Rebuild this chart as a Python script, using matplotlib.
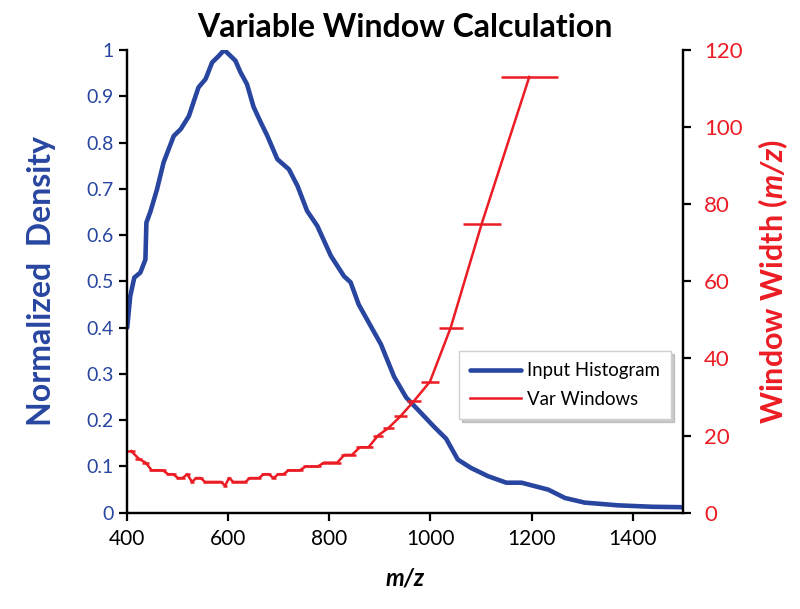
import numpy as np
import matplotlib
matplotlib.use("Agg")
import matplotlib.pyplot as plt
from matplotlib.ticker import FuncFormatter

plt.rcParams['font.family'] = ['Lato', 'DejaVu Sans']
plt.rcParams['mathtext.fontset'] = 'custom'
plt.rcParams['mathtext.bfit'] = 'Lato:bold:italic'

# ---- data ----
# input histogram (m/z, normalized density)
hist_mz = [400, 406, 414, 426, 436, 438, 446, 459, 472, 492, 506, 522, 541, 555,
           568, 581, 592, 614, 624, 637, 650, 664, 677, 697, 720, 737, 756, 776,
           803, 829, 842, 858, 882, 902, 928, 952, 981, 1007, 1031, 1054, 1080,
           1114, 1150, 1180, 1233, 1266, 1305, 1372, 1438, 1500]
hist_density = [0.40, 0.468, 0.508, 0.519, 0.547, 0.627, 0.651, 0.699, 0.757, 0.814,
                0.829, 0.857, 0.919, 0.937, 0.973, 0.987, 1.0, 0.977, 0.952, 0.926,
                0.877, 0.844, 0.815, 0.764, 0.742, 0.706, 0.652, 0.620, 0.555, 0.511,
                0.498, 0.450, 0.403, 0.364, 0.294, 0.249, 0.216, 0.186, 0.160, 0.115,
                0.097, 0.079, 0.065, 0.065, 0.050, 0.032, 0.022, 0.016, 0.013, 0.012]

# variable windows: widths of contiguous windows starting at m/z 400
win_start = 400
win_widths = [16, 14, 13, 11, 11, 11, 10, 10, 9, 9, 10, 8, 9, 9, 8, 8, 8, 8, 8,
              7, 9, 8, 8, 8, 8, 9, 9, 9, 10, 10, 9, 10, 10, 11, 11, 11, 12, 12, 12,
              13, 13, 13, 15, 15, 17, 17, 20, 22, 25, 29, 34, 48, 75, 113]

# window centres from the contiguous widths
w = np.array(win_widths, dtype=float)
edges = win_start + np.concatenate([[0], np.cumsum(w)])
centers = (edges[:-1] + edges[1:]) / 2

blue = "#2846a0"
red = "#ec1c24"

fig = plt.figure(figsize=(8, 6.09), dpi=100)
ax = fig.add_axes([0.159, 0.158, 0.695, 0.76])
ax2 = ax.twinx()

line_hist, = ax.plot(hist_mz, hist_density, color=blue, lw=3.3,
                     solid_joinstyle="round", solid_capstyle="round")
eb = ax2.errorbar(centers, w, xerr=w / 2, color=red, lw=1.8, elinewidth=1.8,
                  capsize=0)

ax.set_xlim(400, 1500)
ax.set_ylim(0, 1)
ax2.set_ylim(0, 120)
ax.set_xticks(np.arange(400, 1401, 200))
ax.set_yticks(np.arange(0, 1.01, 0.1))
ax2.set_yticks(np.arange(0, 121, 20))
ax.yaxis.set_major_formatter(FuncFormatter(lambda v, p: "%g" % round(v, 1)))

for a in (ax, ax2):
    a.spines["top"].set_visible(False)
    for s in a.spines.values():
        s.set_linewidth(1.6)
    a.tick_params(direction="out", length=6, width=1.6)
ax.tick_params(axis="x", labelsize=15, pad=6)
ax.tick_params(axis="y", labelcolor=blue, labelsize=14)
ax2.tick_params(axis="y", labelcolor=red, labelsize=16, pad=9)

ax.set_title("Variable Window Calculation", fontsize=23, fontweight="bold", pad=9)
ax.set_xlabel("m/z", fontsize=17, fontweight="bold", style="italic", labelpad=12)
ax.set_ylabel("Normalized  Density", fontsize=23, fontweight="bold", color=blue,
              labelpad=22)
ax2.set_ylabel(r"Window Width ($\mathbfit{m/z}$)", fontsize=22, fontweight="bold",
               color=red, labelpad=10)

leg = ax2.legend([line_hist, eb.lines[0]], ["Input Histogram", "Var Windows"],
                 loc="lower left", bbox_to_anchor=(0.597, 0.203), borderaxespad=0,
                 fontsize=13.4, fancybox=False, edgecolor="#d0d0d0",
                 handlelength=2.75, handletextpad=0.3, borderpad=0.6,
                 labelspacing=0.6, shadow={"color": "0.6", "alpha": 0.5})
leg.get_frame().set_linewidth(1.0)

fig.savefig("out.png", dpi=100)
